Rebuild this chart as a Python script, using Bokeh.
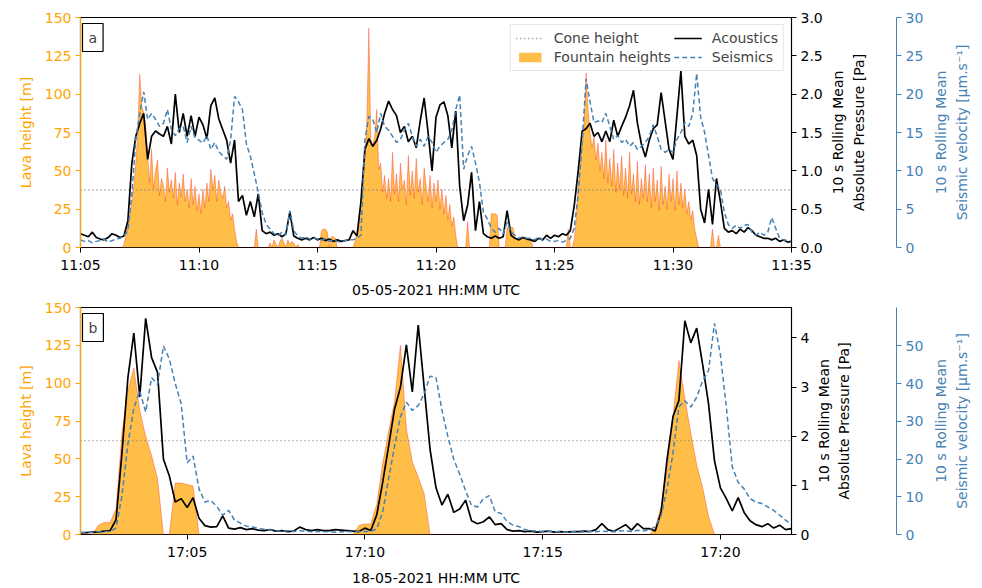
import numpy as np
from bokeh.plotting import figure
from bokeh.models import (Range1d, LinearAxis, FixedTicker, PrintfTickFormatter,
                          Legend, LegendItem, Label)
from bokeh.layouts import column, row
from bokeh.embed import file_html
from bokeh.resources import INLINE

# ---------------- data : panel a (05-05-2021, from 11:05 UTC) ----------------
a_line_step_s = 10      # sampling of acoustic / seismic series
a_fount_step_s = 5      # sampling of fountain heights
a_cone_height = 37.5
a_xticks_min = [0, 5, 10, 15, 20, 25, 30]
a_xtick_labels = ["11:05", "11:10", "11:15", "11:20", "11:25", "11:30", "11:35"]
a_xlabel = "05-05-2021 HH:MM UTC"

a_acoustic = [
    0.18, 0.16, 0.14, 0.20, 0.13, 0.11,
    0.10, 0.13, 0.18, 0.16, 0.13, 0.15,
    0.35, 1.10, 1.45, 1.62, 1.75, 1.15,
    1.45, 1.52, 1.48, 1.45, 1.58, 1.35,
    2.00, 1.50, 1.75, 1.45, 1.72, 1.45,
    1.70, 1.60, 1.42, 1.85, 1.95, 1.68,
    1.54, 1.40, 1.10, 1.40, 0.60, 0.68,
    0.42, 0.60, 0.40, 0.70, 0.22, 0.18,
    0.20, 0.16, 0.18, 0.14, 0.18, 0.46,
    0.15, 0.12, 0.10, 0.12, 0.10, 0.13,
    0.10, 0.12, 0.09, 0.11, 0.08, 0.10,
    0.08, 0.09, 0.10, 0.22, 0.15, 0.60,
    1.28, 1.42, 1.32, 1.40, 1.55, 1.75,
    1.91, 1.80, 1.72, 1.50, 1.58, 1.38,
    1.45, 1.30, 1.65, 1.95, 1.50, 1.00,
    1.70, 1.86, 1.90, 1.72, 1.30, 1.78,
    0.80, 0.35, 0.55, 0.98, 0.22, 0.60,
    0.18, 0.14, 0.12, 0.15, 0.12, 0.14,
    0.48, 0.16, 0.12, 0.10, 0.13, 0.11,
    0.10, 0.08, 0.12, 0.10, 0.16, 0.12,
    0.16, 0.14, 0.18, 0.16, 0.22, 0.55,
    1.00, 1.52, 1.55, 1.62, 1.45, 1.50,
    1.38, 1.52, 1.38, 1.66, 1.45, 1.58,
    1.70, 1.85, 2.05, 1.62, 1.35, 1.18,
    1.40, 1.55, 1.60, 2.02, 1.65, 1.28,
    1.15, 1.72, 2.30, 1.45, 1.35, 1.40,
    1.20, 0.50, 0.32, 0.76, 0.30, 0.90,
    0.60, 0.25, 0.20, 0.22, 0.18, 0.24,
    0.20, 0.26, 0.22, 0.16, 0.14, 0.12,
    0.12, 0.10, 0.12, 0.08, 0.10, 0.07,
    0.08,
]

a_seismic = [
    1.0, 0.8, 0.9, 0.6, 0.8, 0.9,
    1.1, 0.7, 0.9, 1.1, 1.2, 1.5,
    2.2, 7.0, 14.1, 17.5, 20.3, 16.7,
    17.5, 16.7, 15.8, 16.2, 18.0, 15.4,
    14.6, 15.5, 15.8, 13.7, 15.8, 14.3,
    14.0, 13.6, 14.6, 12.8, 13.7, 12.5,
    12.0, 11.5, 14.0, 19.7, 19.0, 18.0,
    13.5, 11.9, 9.6, 7.2, 4.6, 3.0,
    2.4, 1.8, 1.5, 2.0, 1.6, 4.8,
    2.2, 1.5, 1.2, 1.4, 1.1, 1.3,
    1.1, 0.9, 1.2, 0.8, 1.0, 0.8,
    0.7, 0.9, 1.0, 1.0, 1.2, 1.6,
    14.0, 17.1, 16.7, 15.0, 17.5, 15.8,
    15.3, 14.5, 13.7, 14.1, 15.3, 16.2,
    14.5, 13.2, 14.1, 13.2, 14.5, 13.7,
    12.4, 13.2, 13.7, 14.1, 15.3, 18.0,
    19.9, 10.2, 12.0, 13.2, 11.0, 8.5,
    4.6, 3.7, 2.5, 2.0, 2.5, 1.8,
    3.3, 2.0, 1.6, 1.2, 1.4, 1.2,
    1.2, 1.0, 1.4, 0.9, 1.1, 0.8,
    0.8, 0.9, 0.7, 0.9, 1.2, 2.5,
    7.0, 13.7, 22.0, 19.0, 16.3, 16.5,
    16.3, 17.5, 15.8, 14.1, 14.6, 13.7,
    14.1, 13.2, 13.7, 12.8, 13.2, 13.7,
    14.5, 16.0, 14.5, 12.8, 12.4, 12.8,
    12.4, 14.1, 15.0, 16.3, 15.8, 17.5,
    22.7, 17.0, 15.0, 12.0, 9.0, 8.2,
    7.6, 4.6, 3.0, 2.5, 2.9, 2.5,
    2.9, 3.0, 2.0, 1.6, 2.0, 1.6,
    2.0, 3.9, 2.5, 1.2, 1.0, 0.9,
    0.8,
]

a_fountain = [
    0, 0, 0, 0, 0, 0, 0, 0, 0, 0, 0, 0,
    0, 0, 0, 0, 0, 0, 0, 0, 0, 0, 2, 8,
    14, 22, 30, 40, 55, 75, 113, 92, 88, 80, 60, 42,
    64, 38, 50, 57, 34, 45, 40, 30, 52, 36, 44, 32,
    49, 28, 42, 33, 48, 30, 38, 26, 45, 28, 40, 24,
    35, 22, 38, 26, 42, 30, 51, 38, 47, 30, 44, 36,
    32, 40, 26, 30, 18, 22, 12, 4, 0, 0, 0, 0,
    0, 0, 0, 0, 0, 12, 0, 0, 0, 0, 0, 0,
    3, 0, 5, 2, 0, 4, 6, 3, 0, 5, 2, 4,
    3, 0, 2, 0, 0, 0, 0, 0, 0, 0, 0, 0,
    0, 0, 11, 12, 12, 10, 0, 7, 7, 6, 0, 0,
    0, 0, 0, 0, 0, 0, 0, 4, 10, 19, 30, 42,
    58, 83, 143, 71, 66, 73, 90, 51, 55, 36, 47, 32,
    45, 30, 62, 35, 48, 30, 55, 38, 44, 28, 60, 34,
    50, 32, 58, 36, 45, 28, 52, 40, 30, 47, 26, 42,
    30, 44, 25, 38, 22, 34, 18, 28, 14, 20, 8, 0,
    0, 0, 0, 0, 17, 0, 0, 0, 0, 0, 0, 0,
    0, 0, 0, 0, 22, 22, 22, 21, 0, 0, 0, 0,
    13, 13, 13, 13, 6, 6, 6, 6, 6, 6, 6, 6,
    6, 0, 0, 0, 0, 0, 0, 0, 0, 0, 0, 0,
    0, 0, 0, 0, 0, 0, 0, 12, 0, 0, 5, 18,
    40, 53, 65, 80, 114, 90, 75, 65, 72, 57, 68, 50,
    62, 45, 70, 42, 58, 40, 64, 36, 55, 38, 60, 34,
    52, 32, 62, 35, 48, 30, 56, 28, 45, 32, 54, 30,
    48, 26, 52, 30, 44, 24, 53, 28, 40, 25, 48, 30,
    45, 24, 50, 28, 42, 26, 38, 22, 30, 18, 24, 12,
    6, 0, 0, 0, 0, 0, 0, 0, 12, 0, 0, 8,
    0, 0, 0, 0, 0, 0, 0, 0, 0, 0, 0, 0,
    0, 0, 0, 0, 0, 0, 0, 0, 0, 0, 0, 0,
    0, 0, 0, 0, 0, 0, 0, 0, 0, 0, 0, 0,
    0,
]

# ---------------- data : panel b (18-05-2021, from 17:02 UTC) ----------------
b_line_step_s = 10
b_fount_step_s = 10
b_cone_height = 62
b_xticks_min = [3, 8, 13, 18]
b_xtick_labels = ["17:05", "17:10", "17:15", "17:20"]
b_xlabel = "18-05-2021 HH:MM UTC"

b_acoustic = [
    0.03, 0.04, 0.05, 0.05, 0.07, 0.08,
    0.30, 1.66, 3.19, 4.10, 2.80, 4.40,
    3.60, 3.30, 1.53, 1.19, 0.66, 0.73,
    0.55, 0.75, 0.33, 0.18, 0.15, 0.16,
    0.38, 0.13, 0.11, 0.14, 0.10, 0.12,
    0.09, 0.08, 0.10, 0.07, 0.08, 0.06,
    0.07, 0.15, 0.10, 0.08, 0.10, 0.08,
    0.08, 0.10, 0.09, 0.08, 0.07, 0.06,
    0.13, 0.08, 0.40, 1.06, 1.80, 2.55,
    3.00, 3.86, 2.90, 4.26, 3.00, 1.73,
    0.95, 0.60, 0.82, 0.45, 0.52, 0.70,
    0.28, 0.22, 0.26, 0.36, 0.20, 0.22,
    0.10, 0.07, 0.08, 0.06, 0.07, 0.05,
    0.06, 0.07, 0.05, 0.06, 0.05, 0.06,
    0.06, 0.07, 0.06, 0.10, 0.22, 0.10,
    0.06, 0.13, 0.20, 0.09, 0.22, 0.12,
    0.12, 0.07, 0.46, 1.53, 2.40, 2.73,
    4.35, 3.90, 4.20, 3.46, 2.66, 1.50,
    0.95, 0.73, 0.48, 0.75, 0.45, 0.28,
    0.20, 0.16, 0.22, 0.13, 0.19, 0.10,
    0.12,
]

b_seismic = [
    0.5, 0.6, 0.5, 0.7, 0.8, 0.8,
    1.7, 10.3, 24.0, 33.5, 38.0, 32.5,
    41.6, 39.8, 50.0, 46.5, 40.0, 34.6,
    19.0, 20.8, 12.1, 8.6, 9.0, 7.5,
    5.1, 6.4, 3.8, 3.0, 2.2, 2.0,
    1.6, 1.4, 1.2, 1.0, 0.9, 1.0,
    0.8, 1.0, 0.9, 0.7, 0.8, 0.7,
    0.7, 0.6, 0.7, 0.8, 0.7, 0.8,
    0.8, 0.8, 1.5, 6.0, 14.7, 23.4,
    31.2, 35.1, 32.9, 34.2, 37.3, 42.0,
    41.6, 33.0, 26.0, 19.9, 16.0, 11.6,
    7.7, 7.3, 9.5, 10.3, 6.0, 5.6,
    3.4, 2.5, 2.1, 1.3, 1.0, 0.9,
    0.8, 0.9, 0.7, 0.8, 0.6, 0.7,
    0.6, 0.7, 0.8, 0.7, 0.9, 0.8,
    0.7, 0.9, 1.0, 0.8, 1.1, 1.0,
    1.2, 2.1, 5.1, 12.1, 21.6, 33.8,
    35.5, 33.8, 36.4, 40.7, 43.5, 56.0,
    47.7, 33.8, 18.0, 13.8, 12.1, 9.5,
    8.6, 8.2, 7.3, 6.4, 5.1, 3.8,
    2.6,
]

b_fountain = [
    0, 0, 0, 6, 8, 8,
    17, 67, 95, 110, 82, 65,
    52, 37, 0, 0, 34, 34,
    33, 32, 0, 0, 0, 0,
    0, 0, 0, 0, 0, 0,
    0, 0, 0, 0, 0, 0,
    0, 0, 0, 0, 0, 0,
    0, 0, 0, 0, 0, 6,
    7, 7, 20, 47, 68, 88,
    125, 70, 48, 38, 27, 0,
    0, 0, 0, 0, 0, 0,
    0, 0, 0, 0, 0, 0,
    0, 0, 0, 0, 0, 0,
    0, 0, 0, 0, 0, 0,
    0, 0, 0, 0, 0, 0,
    0, 0, 0, 0, 0, 0,
    0, 4, 19, 43, 78, 115,
    90, 67, 46, 31, 12, 0,
    0, 0, 0, 0, 0, 0,
    0, 0, 0, 0, 0, 0,
    0,
]

FONT = "DejaVu Sans"
ORANGE = "#FFA500"
BLUE = "#4682B4"
FS = "14px"
ACOU_TITLE = "10 s Rolling Mean\nAbsolute Pressure [Pa]"
SEIS_TITLE = "10 s Rolling Mean\nSeismic velocity [\u00b5m.s\u207b\u00b9]"
TOTAL_W = 982
SEIS_SPINE_X = 898     # pixel column of the seismic spine
SEIS_TITLE_X0 = 926    # left edge of the strip holding the seismic title


def style_axis(ax, color):
    ax.axis_line_color = color
    ax.major_tick_line_color = color
    ax.major_label_text_color = color
    ax.axis_label_text_color = color
    ax.major_tick_out = 5
    ax.major_tick_in = 0
    ax.minor_tick_line_color = None
    ax.major_label_text_font = FONT
    ax.major_label_text_font_size = FS
    ax.axis_label_text_font = FONT
    ax.axis_label_text_font_size = FS
    ax.axis_label_text_font_style = "normal"
    ax.major_label_standoff = 4


def strip(width, height, top, bottom, right, y_max, loc):
    s = figure(width=width, height=height, output_backend="svg", toolbar_location=None,
               x_range=Range1d(0, 1), y_range=Range1d(0, y_max),
               x_axis_location=None, y_axis_location=loc,
               min_border_left=0, min_border_right=right,
               min_border_top=top, min_border_bottom=bottom)
    s.grid.visible = False
    s.outline_line_color = None
    return s


def title_label(fig, xfrac, y_max, text, color):
    fig.add_layout(Label(x=xfrac, y=y_max / 2, text=text, angle=np.pi / 2,
                         text_align="center", text_baseline="middle", text_font=FONT,
                         text_font_size=FS, text_color=color, text_line_height=1.3))


def make_panel(letter, t_line, acou, seis, t_f, fount, cone, xr, acou_max, acou_ticks,
               acou_fmt, seis_max, seis_ticks, xticks, xlabels, xlabel, height,
               top, bottom, main_w, acou_title_x, legend, xlabel_standoff):
    p = figure(width=main_w, height=height, output_backend="svg", toolbar_location=None,
               x_range=Range1d(*xr), y_range=Range1d(0, 150),
               min_border_left=80, min_border_right=main_w - 791,
               min_border_top=top, min_border_bottom=bottom)
    p.extra_y_ranges = {"acou": Range1d(0, acou_max), "seis": Range1d(0, seis_max)}
    p.grid.visible = False
    p.outline_line_color = "black"
    p.outline_line_width = 1.2
    p.background_fill_color = "white"

    rf = p.varea(x=t_f, y1=np.zeros(len(t_f)), y2=fount, fill_color=ORANGE, fill_alpha=0.72)
    p.line(t_f, fount, line_color="red", line_alpha=0.3, line_width=1)
    rc = p.line([xr[0], xr[1]], [cone, cone], line_color="#808080", line_width=1.3,
                line_dash="1 3")
    ra = p.line(t_line, acou, y_range_name="acou", line_color="black", line_width=1.7)
    rs = p.line(t_line, seis, y_range_name="seis", line_color=BLUE, line_width=1.5,
                line_dash="5 3")

    # x axis
    xa = p.xaxis[0]
    style_axis(xa, "black")
    xa.axis_line_color = None
    xa.ticker = FixedTicker(ticks=xticks)
    xa.major_label_overrides = {float(k): v for k, v in zip(xticks, xlabels)}
    xa.axis_label = xlabel
    xa.axis_label_standoff = xlabel_standoff

    # left axis
    ya = p.yaxis[0]
    style_axis(ya, ORANGE)
    ya.ticker = FixedTicker(ticks=[0, 25, 50, 75, 100, 125, 150])
    ya.axis_label = "Lava height [m]"
    ya.axis_label_standoff = 8

    # right acoustic axis
    aa = LinearAxis(y_range_name="acou", ticker=FixedTicker(ticks=acou_ticks),
                    formatter=PrintfTickFormatter(format=acou_fmt))
    style_axis(aa, "black")
    p.add_layout(aa, "right")

    lab = Label(x=xr[0], y=150, x_offset=2, y_offset=-6, text=letter, text_font=FONT,
                text_font_size=FS, text_align="left", text_baseline="top",
                border_line_color="black", border_line_width=1.2,
                background_fill_color="white", padding=6)
    p.add_layout(lab)

    if legend:
        lg = Legend(items=[LegendItem(label="Cone height", renderers=[rc]),
                           LegendItem(label="Fountain heights", renderers=[rf]),
                           LegendItem(label="Acoustics", renderers=[ra]),
                           LegendItem(label="Seismics", renderers=[rs])],
                    location="top_right", ncols=2)
        lg.label_text_font = FONT
        lg.label_text_font_size = FS
        lg.margin = 7
        lg.padding = 5
        lg.spacing = 3
        lg.label_standoff = 10
        lg.glyph_width = 28
        lg.glyph_height = 12
        lg.border_line_color = "#cccccc"
        lg.background_fill_alpha = 0.8
        p.add_layout(lg)

    # strip 1: acoustic title + seismic axis (spine on its right frame edge)
    w1 = SEIS_TITLE_X0 - main_w
    s1 = strip(w1, height, top, bottom, SEIS_TITLE_X0 - SEIS_SPINE_X, seis_max, "right")
    sa = s1.yaxis[0]
    style_axis(sa, BLUE)
    sa.ticker = FixedTicker(ticks=seis_ticks)
    title_label(s1, (acou_title_x - main_w) / (SEIS_SPINE_X - main_w), seis_max,
                ACOU_TITLE, "black")

    # strip 2: seismic title
    s2 = strip(TOTAL_W - SEIS_TITLE_X0, height, top, bottom, 0, seis_max, None)
    title_label(s2, 0.45, seis_max, SEIS_TITLE, BLUE)
    return row(p, s1, s2, spacing=0)


ta = np.arange(len(a_acoustic)) * a_line_step_s / 60.0
taf = np.arange(len(a_fountain)) * a_fount_step_s / 60.0
tb = np.arange(len(b_acoustic)) * b_line_step_s / 60.0
tbf = np.arange(len(b_fountain)) * b_fount_step_s / 60.0

pa = make_panel("a", ta, a_acoustic, a_seismic, taf, a_fountain, a_cone_height, (0, 30),
                3.0, [0, 0.5, 1.0, 1.5, 2.0, 2.5, 3.0], "%.1f", 30, [0, 5, 10, 15, 20, 25, 30],
                a_xticks_min, a_xtick_labels, a_xlabel, 300, 17, 51, 826, 849, True, 6)
pb = make_panel("b", tb, b_acoustic, b_seismic, tbf, b_fountain, b_cone_height, (0, 20),
                4.62, [0, 1, 2, 3, 4], "%d", 60.2, [0, 10, 20, 30, 40, 50],
                b_xticks_min, b_xtick_labels, b_xlabel, 288, 7, 50, 812, 834, False, 7)

layout = column(pa, pb, spacing=0)
open("out.html", "w").write(file_html(layout, INLINE))
